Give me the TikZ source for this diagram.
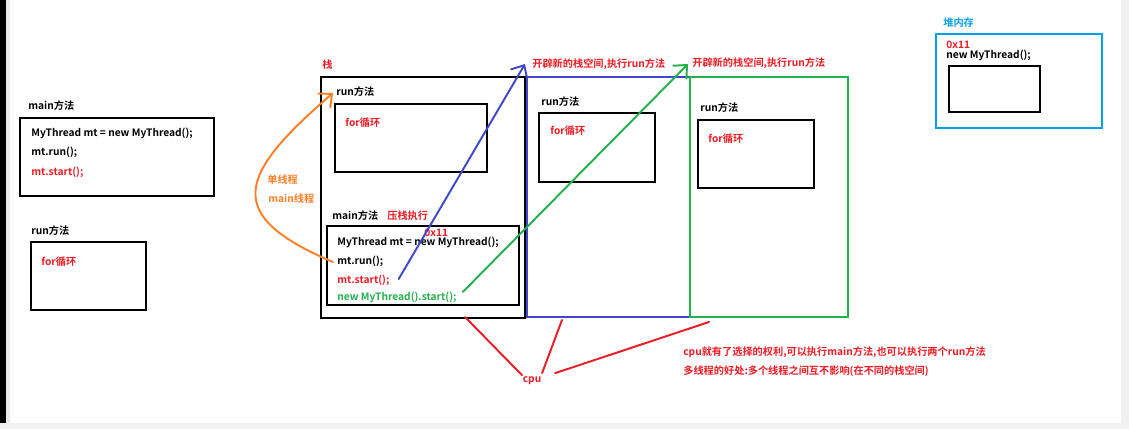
\documentclass[tikz,border=0pt]{standalone}
\usepackage{fontspec}
\setmainfont{Noto Sans CJK SC}[BoldFont={Noto Sans CJK SC Bold}]
\usetikzlibrary{arrows.meta,calc}
\definecolor{pred}{RGB}{237,28,36}
\definecolor{pblue}{RGB}{63,72,204}
\definecolor{pgreen}{RGB}{34,177,76}
\definecolor{porange}{RGB}{255,127,39}
\definecolor{psky}{RGB}{0,162,232}

\tikzset{
  txt/.style={anchor=west,inner sep=0pt,font=\fontsize{5.8}{7}\selectfont\bfseries},
  box/.style={draw=black,line width=1.4pt},
  pen/.style={line width=1.1pt,line cap=round,>={Straight Barb[length=6pt,width=11pt]}}
}

\begin{document}
\begin{tikzpicture}[x=0.02cm,y=-0.02cm]
\useasboundingbox (0,0) rectangle (1129,429);
\fill[white] (0,0) rectangle (1129,429);
% screen edges
\fill[black] (0,0) rectangle (6,429);
\fill[black!8] (6,0) rectangle (10,429);
\fill[black!6] (1121,0) rectangle (1129,429);
\fill[black!5] (0,423) rectangle (1129,429);

% main method on the left
\node[txt] (mainlab) at (28,106) {main方法};
\draw[box] (20,118) rectangle (214,196);
\node[txt] (l1) at (31,133) {MyThread mt = new MyThread();};
\node[txt] (l2) at (31,152) {mt.run();};
\node[txt,text=pred] (l3) at (31,172) {mt.start();};

\node[txt] (runlab) at (31,231) {run方法};
\draw[box] (31,242) rectangle (146,310);
\node[txt,text=pred] (for0) at (41,262) {for循环};

% the stack
\node[txt,text=pred] (stacklab) at (322,65) {栈};
\draw[box] (321,77) rectangle (525,318);
\node[txt] (srun) at (336,92) {run方法};
\draw[box] (335,104) rectangle (487,172);
\node[txt,text=pred] (sfor) at (345,123) {for循环};
\node[txt] (smain) at (332,216) {main方法};
\node[txt,text=pred] (push) at (387,216) {压栈执行};
\draw[box] (327,226) rectangle (519,305);
\node[txt] (s1) at (337,242) {MyThread mt = new MyThread();};
\node[txt,text=pred] (addr) at (424,233) {0x11};
\node[txt] (mtrun) at (337,261) {mt.run();};
\node[txt,text=pred] (mtstart) at (337,280) {mt.start();};
\node[txt,text=pgreen] (newstart) at (337,297) {new MyThread().start();};

% new stacks
\draw[draw=pblue,line width=1.2pt] (527,77) rectangle (690,317);
\node[txt] (brun) at (541,102) {run方法};
\draw[box] (539,113) rectangle (655,182);
\node[txt,text=pred] (bfor) at (550,131) {for循环};

\draw[draw=pgreen,line width=1.2pt] (690,77) rectangle (848,317);
\node[txt] (grun) at (700,108) {run方法};
\draw[box] (698,120) rectangle (814,188);
\node[txt,text=pred] (gfor) at (708,139) {for循环};

\node[txt,text=pred] (new1) at (532,64) {开辟新的栈空间,执行run方法};
\node[txt,text=pred] (new2) at (692,63) {开辟新的栈空间,执行run方法};

% threads
\draw[pen,draw=porange,->] ($(mtrun.west)+(-4,1)$) .. controls (222,215) and (238,175) .. ($(srun.west)+(-3,1)$);
\node[txt,text=porange] (single) at (267,180) {单线程};
\node[txt,text=porange] (mainthr) at (268,199) {main线程};
\draw[pen,draw=pblue,->] ($(mtstart.east)+(9,-1)$) -- ($(new1.west)+(-7,0)$);
\draw[pen,draw=pgreen,->] ($(newstart.east)+(6,-5)$) -- ($(new2.west)+(-4,1)$);

% cpu
\node[txt,text=pred,inner sep=2pt] (cpu) at (519,381) {cpu};
\coordinate (c1) at (465,317);
\coordinate (c2) at (562,320);
\coordinate (c3) at (709,322);
\draw[pen,draw=pred] (c1) -- ($(cpu.north west)+(3,2)$);
\draw[pen,draw=pred] (c2) -- ($(cpu.north)+(10,0)$);
\draw[pen,draw=pred] (c3) -- ($(cpu.north east)+(10,0)$);
\node[txt,text=pred] (note1) at (683,352) {cpu就有了选择的权利,可以执行main方法,也可以执行两个run方法};
\node[txt,text=pred] (note2) at (683,371) {多线程的好处:多个线程之间互不影响(在不同的栈空间)};

% heap
\node[txt,text=psky] (heaplab) at (943,23) {堆内存};
\draw[draw=psky,line width=1.4pt] (936,34) rectangle (1102,128);
\node[txt,text=pred] (haddr) at (946,45) {0x11};
\node[txt] (hobj) at (946,55) {new MyThread();};
\draw[box] (949,66) rectangle (1040,112);
\end{tikzpicture}
\end{document}
